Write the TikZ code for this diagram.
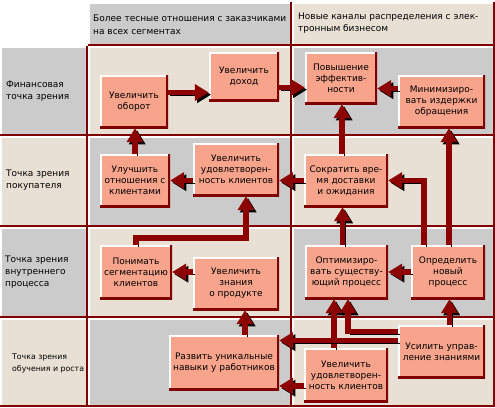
\documentclass[tikz,border=0pt]{standalone}
\usepackage{fontspec}
\setmainfont{DejaVu Sans}
\usetikzlibrary{arrows.meta}

\definecolor{cellgray}{HTML}{CBCBCB}
\definecolor{cellbeige}{HTML}{E8E0D4}
\definecolor{cellred}{HTML}{800000}
\definecolor{arrowred}{HTML}{8C0000}
\definecolor{boxfill}{HTML}{F8A48C}

% one table cell: x1, y1, x2, y2, fill
\newcommand{\gridcell}[5]{%
  \fill[#5] (#1,#2) rectangle (#3,#4);
  \draw[white, line width=2pt] (#1+1,#4) -- (#1+1,#2+1) -- (#3,#2+1);
  \draw[cellred, line width=2pt] (#1,#4-1) -- (#3-1,#4-1) -- (#3-1,#2);
}

\begin{document}
\begin{tikzpicture}[x=1pt, y=-1pt,
        goal/.style={fill=boxfill, align=center, inner sep=1pt,
            minimum height=53pt, font=\fontsize{9}{11}\selectfont,
            path picture={
                \draw[white, line width=3pt] (path picture bounding box.south west)
                    -- (path picture bounding box.north west) -- (path picture bounding box.north east);
                \draw[cellred, line width=3.5pt] (path picture bounding box.south west)
                    -- (path picture bounding box.south east) -- (path picture bounding box.north east);
            }},
        rowlabel/.style={anchor=west, align=left, inner sep=0pt,
            font=\fontsize{9}{12}\selectfont},
        flow/.style={line width=5.5pt, draw=arrowred,
            -{Triangle[width=16pt,length=14pt]},
            preaction={draw=black, transform canvas={shift={(2.2pt,-2.2pt)}}}}
    ]
        \useasboundingbox (0,0) rectangle (495,407);
        \fill[white] (0,0) rectangle (495,407);

        % Table
        \gridcell{88}{2}{292}{46}{cellgray}
        \gridcell{292}{2}{495}{46}{cellbeige}
        \foreach \ya/\yb/\ca/\cb/\cc in {46/136/cellgray/cellbeige/cellgray,
                136/227/cellbeige/cellgray/cellbeige,
                227/318/cellgray/cellbeige/cellgray,
                318/407/cellbeige/cellgray/cellbeige}{
            \gridcell{0}{\ya}{88}{\yb}{\ca}
            \gridcell{88}{\ya}{292}{\yb}{\cb}
            \gridcell{292}{\ya}{495}{\yb}{\cc}
        }

        % Headers
        \node[rowlabel, font=\fontsize{9}{13}\selectfont] (headleft) at (93,24.5)
            {Более тесные отношения с заказчиками\\на всех сегментах};
        \node[rowlabel] (headright) at (298,23)
            {Новые каналы распределения с элек-\\тронным бизнесом};

        % Row labels
        \node[rowlabel] (finlabel) at (6,91) {Финансовая\\точка зрения};
        \node[rowlabel] (custlabel) at (6,180) {Точка зрения\\покупателя};
        \node[rowlabel] (proclabel) at (5,272.5) {Точка зрения\\внутреннего\\процесса};
        \node[rowlabel, font=\fontsize{7.8}{12}\selectfont] (learnlabel) at (12,363) {Точка зрения\\обучения и роста};

        % Goals
        \node[goal, minimum width=68pt] (oborot) at (134,101.5) {Увеличить\\оборот};
        \node[goal, minimum width=70pt, minimum height=49pt] (dohod) at (244,76.5) {Увеличить\\доход};
        \node[goal, minimum width=72pt, minimum height=52pt] (effect) at (341,78) {Повышение\\эффектив-\\ности};
        \node[goal, minimum width=87pt] (minim) at (441.5,101.5) {Минимизиро-\\вать издержки\\обращения};
        \node[goal, minimum width=70pt] (uluch) at (135,180.5) {Улучшить\\отношения с\\клиентами};
        \node[goal, minimum width=86pt] (udov) at (236,169.5) {Увеличить\\удовлетворен-\\ность клиентов};
        \node[goal, minimum width=84pt] (sokr) at (346,180.5) {Сократить вре-\\мя доставки\\и ожидания};
        \node[goal, minimum width=72pt, minimum height=54pt] (ponim) at (136,272) {Понимать\\сегментацию\\клиентов};
        \node[goal, minimum width=86pt] (znan) at (236,283.5) {Увеличить\\знания\\о продукте};
        \node[goal, minimum width=83pt, minimum height=54pt] (optim) at (346.5,272) {Оптимизиро-\\вать существу-\\ющий процесс};
        \node[goal, minimum width=74pt, minimum height=54pt] (opred) at (448,272) {Определить\\новый\\процесс};
        \node[goal, minimum width=110pt, minimum height=55pt] (razv) at (224,362.5) {Развить уникальные\\навыки у работников};
        \node[goal, minimum width=87pt] (usil) at (441.5,351.5) {Усилить управ-\\ление знаниями};
        \node[goal, minimum width=84pt, minimum height=54pt] (udov2) at (346,375) {Увеличить\\удовлетворен-\\ность клиентов};

        % Financial row
        \draw[flow] ([yshift=9pt]oborot.east) -- ([yshift=9pt]oborot.east -| dohod.west);
        \draw[flow] ([yshift=-11pt]dohod.east) -- ([yshift=-11pt]dohod.east -| effect.west);
        \draw[flow] ([yshift=13pt]minim.west) -- ([yshift=13pt]minim.west -| effect.east);

        % Customer row
        \draw[flow] (sokr.west) -- (sokr.west -| udov.east);
        \draw[flow] (udov.west |- uluch.east) -- (uluch.east);
        \draw[flow] (uluch.north) -- (uluch.north |- oborot.south);
        \draw[flow] ([xshift=-4pt]sokr.north) -- ([xshift=-4pt]sokr.north |- effect.south);

        % Internal process row
        \draw[flow] (ponim.north) -- ++(0,-7) -| ([xshift=10pt]udov.south);
        \draw[flow] (znan.west |- ponim.east) -- (ponim.east);
        \draw[flow] (opred.west) -- (optim.east);
        \draw[flow] ([xshift=-4pt]optim.north) -- ([xshift=-4pt]optim.north |- sokr.south);
        \draw[flow] ([xshift=1pt]opred.north) -- ([xshift=1pt]opred.north |- minim.south);
        \draw[flow] ([xshift=-24pt]opred.north) |- (sokr.east);

        % Learning row
        \draw[flow] ([xshift=9pt]znan.south |- razv.north) -- ([xshift=9pt]znan.south);
        \draw[flow] ([xshift=8pt]usil.north) -- ([xshift=8pt]usil.north |- opred.south);
        \draw[flow] ([yshift=20pt]usil.west) -| ([xshift=1.5pt]optim.south);
        \draw[flow] ([xshift=-12pt]udov2.north) -- ([xshift=-12pt]udov2.north |- optim.south);
        \draw[flow] ([yshift=11pt]usil.west) -- ([yshift=11pt]usil.west -| razv.east);
        \draw[flow] ([yshift=-11pt]udov2.west) -- ([yshift=-11pt]udov2.west -| razv.east);
    \end{tikzpicture}
\end{document}
